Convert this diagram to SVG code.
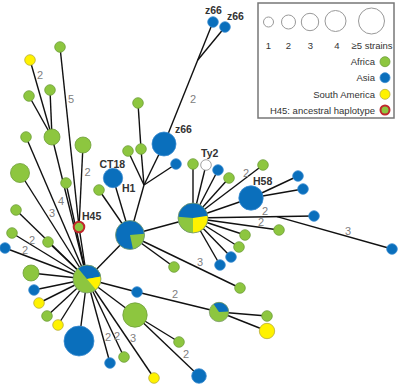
<svg xmlns="http://www.w3.org/2000/svg" width="400" height="385" viewBox="0 0 400 385">
<style>
.e{stroke:#111;stroke-width:1.4;fill:none}
.g{fill:#8dc63f;stroke:#6e9e3a;stroke-width:0.8}
.b{fill:#0a6fbc;stroke:#3a8cd0;stroke-width:0.8}
.y{fill:#fff200;stroke:#b8ad3a;stroke-width:0.8}
.w{fill:#fff;stroke:#888;stroke-width:0.8}
.pg{fill:#8dc63f;stroke:none}
.pb{fill:#0a6fbc;stroke:none}
.py{fill:#fff200;stroke:none}
.po{fill:none;stroke:#7a9a6a;stroke-width:0.8}
.el{font-family:"Liberation Sans",Arial,sans-serif;font-size:11px;fill:#808080;text-anchor:middle}
.nm{font-family:"Liberation Sans",Arial,sans-serif;font-size:10.5px;font-weight:bold;fill:#333}
.lg{font-family:"Liberation Sans",Arial,sans-serif;font-size:9.5px;fill:#333}
.lc{fill:#fff;stroke:#999;stroke-width:1}
</style>
<rect width="400" height="385" fill="#fff"/>
<g id="connectors">
<line class="e" x1="30" y1="60" x2="52" y2="137"/>
<line class="e" x1="29" y1="96" x2="52" y2="137"/>
<line class="e" x1="50" y1="90" x2="52" y2="137"/>
<line class="e" x1="52" y1="137" x2="87" y2="279"/>
<line class="e" x1="26" y1="137" x2="87" y2="279"/>
<line class="e" x1="20" y1="173" x2="87" y2="279"/>
<line class="e" x1="66" y1="183" x2="87" y2="279"/>
<line class="e" x1="60" y1="47" x2="79" y2="227"/>
<line class="e" x1="83" y1="145" x2="79" y2="227"/>
<line class="e" x1="79" y1="227" x2="87" y2="279"/>
<line class="e" x1="99" y1="190" x2="130" y2="235"/>
<line class="e" x1="113" y1="178" x2="130" y2="235"/>
<line class="e" x1="144" y1="185" x2="130" y2="235"/>
<line class="e" x1="138" y1="103" x2="141" y2="149"/>
<line class="e" x1="141" y1="149" x2="144" y2="185"/>
<line class="e" x1="128" y1="151" x2="144" y2="185"/>
<line class="e" x1="164" y1="144" x2="144" y2="185"/>
<line class="e" x1="176" y1="164" x2="144" y2="185"/>
<line class="e" x1="213" y1="22" x2="164" y2="144"/>
<line class="e" x1="225" y1="27" x2="197.8" y2="60"/>
<line class="e" x1="130" y1="235" x2="87" y2="279"/>
<line class="e" x1="130" y1="235" x2="193" y2="218"/>
<line class="e" x1="130" y1="235" x2="174" y2="267"/>
<line class="e" x1="130" y1="235" x2="240" y2="288"/>
<line class="e" x1="193" y1="218" x2="193" y2="164"/>
<line class="e" x1="193" y1="218" x2="206" y2="165"/>
<line class="e" x1="193" y1="218" x2="218" y2="170"/>
<line class="e" x1="193" y1="218" x2="229" y2="178"/>
<line class="e" x1="193" y1="218" x2="263" y2="165"/>
<line class="e" x1="193" y1="218" x2="251" y2="198"/>
<line class="e" x1="251" y1="198" x2="298" y2="176"/>
<line class="e" x1="251" y1="198" x2="303" y2="189"/>
<line class="e" x1="193" y1="218" x2="314" y2="216"/>
<line class="e" x1="277" y1="216.6" x2="392" y2="249"/>
<line class="e" x1="193" y1="218" x2="279" y2="230"/>
<line class="e" x1="193" y1="218" x2="245" y2="235"/>
<line class="e" x1="193" y1="218" x2="239" y2="247"/>
<line class="e" x1="193" y1="218" x2="231" y2="257"/>
<line class="e" x1="193" y1="218" x2="220" y2="265"/>
<line class="e" x1="87" y1="279" x2="16" y2="210"/>
<line class="e" x1="87" y1="279" x2="12" y2="233"/>
<line class="e" x1="87" y1="279" x2="5" y2="248"/>
<line class="e" x1="87" y1="279" x2="48" y2="242"/>
<line class="e" x1="87" y1="279" x2="31" y2="273"/>
<line class="e" x1="87" y1="279" x2="34" y2="290"/>
<line class="e" x1="87" y1="279" x2="39" y2="303"/>
<line class="e" x1="87" y1="279" x2="47" y2="316"/>
<line class="e" x1="87" y1="279" x2="58" y2="325"/>
<line class="e" x1="87" y1="279" x2="79" y2="341"/>
<line class="e" x1="87" y1="279" x2="110" y2="363"/>
<line class="e" x1="87" y1="279" x2="124" y2="357"/>
<line class="e" x1="87" y1="279" x2="154" y2="378"/>
<line class="e" x1="87" y1="279" x2="137" y2="292"/>
<line class="e" x1="137" y1="292" x2="219" y2="312"/>
<line class="e" x1="87" y1="279" x2="135" y2="315"/>
<line class="e" x1="135" y1="315" x2="179" y2="342"/>
<line class="e" x1="135" y1="315" x2="199" y2="376"/>
<line class="e" x1="219" y1="312" x2="267" y2="316"/>
<line class="e" x1="219" y1="312" x2="267" y2="331"/>
</g>
<g id="edge-labels">
<text class="el" x="40" y="79">2</text>
<text class="el" x="71" y="103">5</text>
<text class="el" x="87.5" y="176">2</text>
<text class="el" x="61" y="205">4</text>
<text class="el" x="52" y="217">3</text>
<text class="el" x="32" y="244">2</text>
<text class="el" x="25" y="254">2</text>
<text class="el" x="193" y="103">2</text>
<text class="el" x="246" y="177">2</text>
<text class="el" x="265" y="215">2</text>
<text class="el" x="261" y="226">2</text>
<text class="el" x="348" y="235">3</text>
<text class="el" x="200" y="266">3</text>
<text class="el" x="175" y="298">2</text>
<text class="el" x="108" y="341">2</text>
<text class="el" x="117" y="340">2</text>
<text class="el" x="133" y="342">3</text>
<text class="el" x="186" y="358">2</text>
</g>
<g id="n1"><circle class="y" cx="30" cy="60" r="5.3"/></g>
<g id="n2"><circle class="g" cx="60" cy="47" r="5.3"/></g>
<g id="n3"><circle class="g" cx="29" cy="96" r="5.3"/></g>
<g id="n4"><circle class="g" cx="50" cy="90" r="5.3"/></g>
<g id="n5"><circle class="g" cx="52" cy="137" r="8"/></g>
<g id="n6"><circle class="g" cx="26" cy="137" r="5.3"/></g>
<g id="n7"><circle class="g" cx="83" cy="145" r="8"/></g>
<g id="n8"><circle class="g" cx="20" cy="173" r="9.5"/></g>
<g id="n9"><circle class="g" cx="66" cy="183" r="5.3"/></g>
<g id="n10"><circle class="g" cx="99" cy="190" r="5.3"/></g>
<g id="H45"><circle cx="79" cy="227" r="5.3" fill="#8dc63f" stroke="#c1272d" stroke-width="2"/><text class="nm" x="82" y="220">H45</text></g>
<g id="n11"><circle class="g" cx="138" cy="103" r="5.3"/></g>
<g id="n12"><circle class="g" cx="141" cy="149" r="5.3"/></g>
<g id="n13"><circle class="g" cx="128" cy="151" r="5.3"/></g>
<g id="z66big"><circle class="b" cx="164" cy="144" r="12"/><text class="nm" x="175" y="133">z66</text></g>
<g id="n14"><circle class="b" cx="176" cy="164" r="5.3"/></g>
<g id="CT18"><circle class="b" cx="113" cy="178" r="9.7"/><text class="nm" x="99.5" y="168">CT18</text><text class="nm" x="122" y="191.5">H1</text></g>
<g id="z66a"><circle class="b" cx="213" cy="22" r="5.3"/><text class="nm" x="205" y="13.5">z66</text></g>
<g id="z66b"><circle class="b" cx="225" cy="27" r="5.3"/><text class="nm" x="227" y="19.5">z66</text></g>
<g id="hubB"><circle class="pb" cx="130" cy="235" r="14.5"/><path class="pg" d="M130 235L144.44 233.74A14.5 14.5 0 0 1 133.01 249.18Z"/><circle class="po" cx="130" cy="235" r="14.5"/></g>
<g id="hubC"><circle class="pb" cx="193" cy="218" r="15"/><path class="py" d="M193 218L207.82 215.65A15 15 0 0 1 193 233Z"/><path class="pg" d="M193 218L193 233A15 15 0 0 1 178.06 216.69Z"/><circle class="po" cx="193" cy="218" r="15"/></g>
<g id="n15"><circle class="g" cx="193" cy="164" r="5.3"/></g>
<g id="Ty2"><circle class="w" cx="206" cy="165" r="5.3"/><text class="nm" x="201" y="157">Ty2</text></g>
<g id="n16"><circle class="b" cx="218" cy="170" r="5.3"/></g>
<g id="n17"><circle class="g" cx="229" cy="178" r="5.3"/></g>
<g id="n18"><circle class="g" cx="263" cy="165" r="5.3"/></g>
<g id="H58"><circle class="b" cx="251" cy="198" r="12.2"/><text class="nm" x="253" y="185">H58</text></g>
<g id="n19"><circle class="b" cx="298" cy="176" r="5.3"/></g>
<g id="n20"><circle class="b" cx="303" cy="189" r="5.3"/></g>
<g id="n21"><circle class="b" cx="314" cy="216" r="5.3"/></g>
<g id="n22"><circle class="b" cx="392" cy="249" r="5.3"/></g>
<g id="n23"><circle class="g" cx="279" cy="230" r="5.3"/></g>
<g id="n24"><circle class="g" cx="245" cy="235" r="5.3"/></g>
<g id="n25"><circle class="g" cx="239" cy="247" r="5.3"/></g>
<g id="n26"><circle class="b" cx="231" cy="257" r="5.3"/></g>
<g id="n27"><circle class="b" cx="220" cy="265" r="5.3"/></g>
<g id="n28"><circle class="g" cx="174" cy="267" r="5.3"/></g>
<g id="n29"><circle class="g" cx="240" cy="288" r="5.3"/></g>
<g id="hubA"><circle class="pg" cx="87" cy="279" r="14"/><path class="pb" d="M87 279L78 268.28A14 14 0 0 1 100.79 276.57Z"/><path class="py" d="M87 279L100.79 276.57A14 14 0 0 1 96 289.72Z"/><circle class="po" cx="87" cy="279" r="14"/></g>
<g id="n30"><circle class="g" cx="16" cy="210" r="5.3"/></g>
<g id="n31"><circle class="g" cx="12" cy="233" r="5.3"/></g>
<g id="n32"><circle class="b" cx="5" cy="248" r="5.3"/></g>
<g id="n33"><circle class="g" cx="48" cy="242" r="5.3"/></g>
<g id="n34"><circle class="g" cx="31" cy="273" r="8"/></g>
<g id="n35"><circle class="b" cx="34" cy="290" r="5.3"/></g>
<g id="n36"><circle class="y" cx="39" cy="303" r="5.3"/></g>
<g id="n37"><circle class="g" cx="47" cy="316" r="5.3"/></g>
<g id="n38"><circle class="y" cx="58" cy="325" r="5.3"/></g>
<g id="n39"><circle class="b" cx="79" cy="341" r="15"/></g>
<g id="n40"><circle class="b" cx="110" cy="363" r="5.3"/></g>
<g id="n41"><circle class="g" cx="124" cy="357" r="5.3"/></g>
<g id="n42"><circle class="y" cx="154" cy="378" r="5.3"/></g>
<g id="n43"><circle class="b" cx="137" cy="292" r="5.3"/></g>
<g id="n44"><circle class="g" cx="135" cy="315" r="12.2"/></g>
<g id="n45"><circle class="g" cx="179" cy="342" r="5.3"/></g>
<g id="n46"><circle class="b" cx="199" cy="376" r="7.3"/></g>
<g id="hubD"><circle class="pg" cx="219" cy="312" r="9.7"/><path class="pb" d="M219 312L213.58 303.96A9.7 9.7 0 0 1 228.69 311.49Z"/><circle class="po" cx="219" cy="312" r="9.7"/></g>
<g id="n47"><circle class="g" cx="267" cy="316" r="5.3"/></g>
<g id="n48"><circle class="y" cx="267" cy="331" r="7.7"/></g>
<g id="legend">
<rect x="258" y="3" width="136" height="115" fill="#fff" stroke="#777" stroke-width="1.5"/>
<circle class="lc" cx="268.5" cy="22" r="5"/>
<circle class="lc" cx="288.5" cy="22" r="7"/>
<circle class="lc" cx="310" cy="22" r="8.7"/>
<circle class="lc" cx="335.5" cy="21" r="10.5"/>
<circle class="lc" cx="371.5" cy="21" r="13"/>
<text class="lg" x="268.5" y="49" text-anchor="middle">1</text>
<text class="lg" x="288.5" y="49" text-anchor="middle">2</text>
<text class="lg" x="310.5" y="49" text-anchor="middle">3</text>
<text class="lg" x="337" y="49" text-anchor="middle">4</text>
<text class="lg" x="351.5" y="49">≥5 strains</text>
<text class="lg" x="375" y="65" text-anchor="end">Africa</text>
<circle class="g" cx="385" cy="61.7" r="5"/>
<text class="lg" x="375" y="81" text-anchor="end">Asia</text>
<circle class="b" cx="385" cy="77.7" r="5"/>
<text class="lg" x="375" y="97.5" text-anchor="end">South America</text>
<circle class="y" cx="385" cy="94.3" r="5"/>
<text class="lg" x="375" y="113.5" text-anchor="end">H45: ancestral haplotype</text>
<circle cx="385" cy="110" r="4.5" fill="#8dc63f" stroke="#c1272d" stroke-width="2"/>
</g>
</svg>
